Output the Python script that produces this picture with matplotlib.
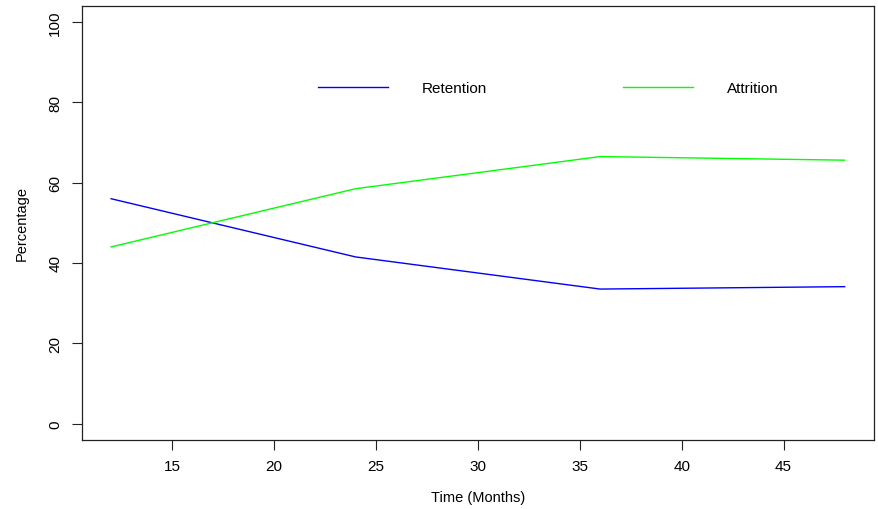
import matplotlib
matplotlib.use('Agg')
import matplotlib.pyplot as plt

# data
months = [12, 24, 36, 48]
retention = [56.0, 41.5, 33.5, 34.1]
attrition = [44.0, 58.5, 66.5, 65.6]
x_ticks = [15, 20, 25, 30, 35, 40, 45]
y_ticks = [0, 20, 40, 60, 80, 100]

plt.rcParams['font.family'] = ['Liberation Sans', 'DejaVu Sans']
fs = 10.5

fig = plt.figure(figsize=(8.79, 5.10), dpi=100)
ax = fig.add_axes([0.093, 0.136, 0.9013, 0.8503])

ax.plot(months, retention, color='#0000ff', lw=1.0, label='Retention')
ax.plot(months, attrition, color='#00ff00', lw=1.0, label='Attrition')

# R-style 4% padding
xr = months[-1] - months[0]
ax.set_xlim(months[0] - 0.04 * xr, months[-1] + 0.04 * xr)
ax.set_ylim(-4, 104)
ax.set_xticks(x_ticks)
ax.set_yticks(y_ticks)
ax.tick_params(direction='out', length=7, width=0.8, pad=7, labelsize=11, color='#222222')
for lab in ax.get_yticklabels():
    lab.set_rotation(90)
    lab.set_va('center')
for s in ax.spines.values():
    s.set_linewidth(0.9)
    s.set_color('#222222')

ax.set_xlabel('Time (Months)', fontsize=fs, labelpad=12)
ax.set_ylabel('Percentage', fontsize=fs, labelpad=14)

fig.legend(loc='center left', bbox_to_anchor=(318 / 879, 1 - 89 / 510),
           bbox_transform=fig.transFigure, ncol=2, frameon=False,
           fontsize=11, handlelength=4.6, handletextpad=2.2,
           columnspacing=8.9, borderpad=0, borderaxespad=0)

fig.savefig('out.png', dpi=100)
